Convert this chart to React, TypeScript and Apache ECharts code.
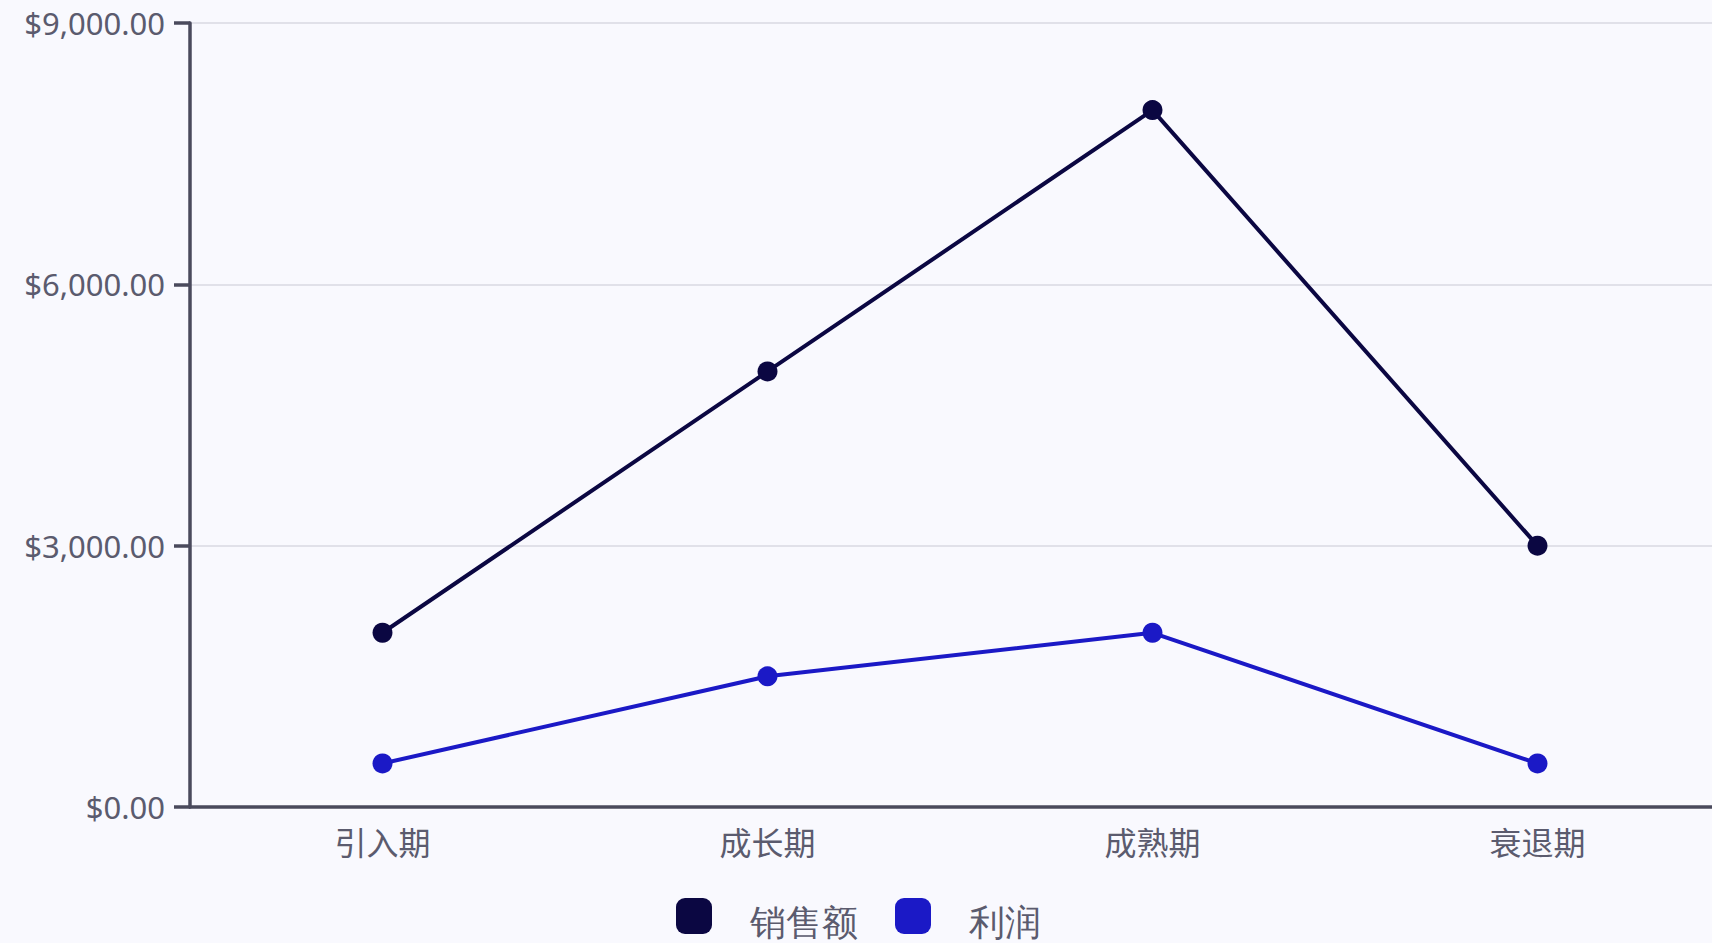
import React, { useEffect, useRef } from "react";
import * as echarts from "echarts";

const categories = ["引入期", "成长期", "成熟期", "衰退期"];
const salesValues = [2000, 5000, 8000, 3000];
const profitValues = [500, 1500, 2000, 500];
const seriesNames = ["销售额", "利润"];
const yTicks = { min: 0, max: 9000, interval: 3000 };

const BG = "#f9f9fe";
const TEXT = "#5b5b6e";
const AXIS = "#4a4a5c";
const SALES = "#0b0742";
const PROFIT = "#1b19c6";

function fmt(v: number) {
  return "$" + v.toLocaleString("en-US", { minimumFractionDigits: 2, maximumFractionDigits: 2 });
}

export default function App() {
  const ref = useRef<HTMLDivElement>(null);
  useEffect(() => {
    document.body.style.margin = "0";
    document.body.style.background = BG;
    const chart = echarts.init(ref.current!, null, { renderer: "svg" });
    chart.setOption({
      animation: false,
      backgroundColor: BG,
      grid: { left: 190, right: 10, top: 23, bottom: 153, containLabel: false },
      legend: {
        data: seriesNames.map((n, i) => ({ name: n, itemStyle: { color: i === 0 ? SALES : PROFIT } })),
        left: 676,
        top: 898,
        padding: 0,
        icon: "roundRect",
        itemWidth: 36,
        itemHeight: 36,
        itemGap: 37,
        formatter: "{a|{name}}",
        textStyle: {
          fontSize: 36,
          color: TEXT,
          fontFamily: "serif",
          rich: {
            a: {
              fontSize: 36,
              color: TEXT,
              fontFamily: "serif",
              padding: [14, 0, 0, 33],
            },
          },
        },
      },
      xAxis: {
        type: "category",
        data: categories,
        boundaryGap: true,
        axisLine: { lineStyle: { color: AXIS, width: 3.5 } },
        axisTick: { alignWithLabel: true, length: 15, lineStyle: { color: AXIS, width: 3.5 }, interval: 0 },
        axisLabel: {
          color: TEXT,
          fontSize: 32,
          margin: 19,
          fontFamily: "'Noto Sans', 'Noto Sans CJK SC', sans-serif",
        },
        splitLine: { show: false },
      },
      yAxis: {
        type: "value",
        min: yTicks.min,
        max: yTicks.max,
        interval: yTicks.interval,
        axisLine: { show: true, lineStyle: { color: AXIS, width: 3.5 } },
        axisTick: { show: true, length: 16, lineStyle: { color: AXIS, width: 3.5 } },
        axisLabel: {
          color: TEXT,
          fontSize: 31,
          margin: 25,
          fontFamily: "'Noto Sans', 'Noto Sans CJK SC', sans-serif",
          formatter: (v: number) => fmt(v),
        },
        splitLine: { lineStyle: { color: "#d9d9e2", width: 1.5 } },
      },
      series: [
        {
          name: seriesNames[0],
          type: "line",
          data: salesValues,
          symbol: "circle",
          symbolSize: 20,
          itemStyle: { color: SALES },
          lineStyle: { color: SALES, width: 4 },
        },
        {
          name: seriesNames[1],
          type: "line",
          data: profitValues,
          symbol: "circle",
          symbolSize: 20,
          itemStyle: { color: PROFIT },
          lineStyle: { color: PROFIT, width: 4 },
        },
      ],
    });
    return () => chart.dispose();
  }, []);
  return (
    <div style={{ position: "absolute", left: 0, top: 0, width: 1712, height: 943, overflow: "hidden", background: BG }}>
      <div ref={ref} style={{ width: 1740, height: 960 }} />
    </div>
  );
}
